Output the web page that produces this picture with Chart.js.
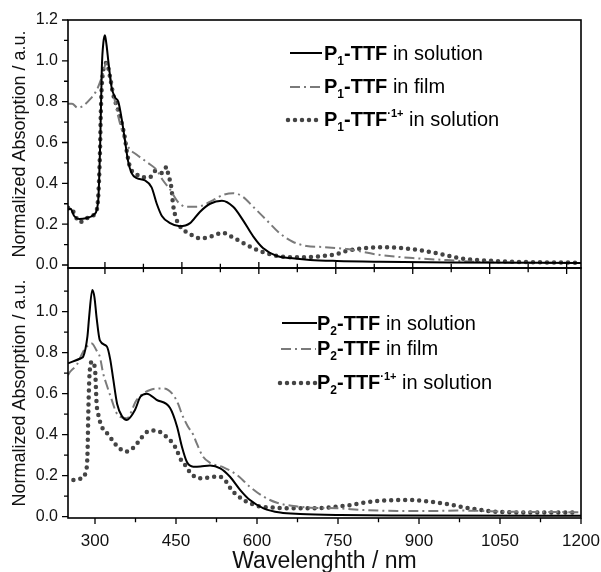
<!DOCTYPE html>
<html>
<head>
<meta charset="utf-8">
<script src="https://cdn.jsdelivr.net/npm/chart.js@4.4.1/dist/chart.umd.min.js"></script>
<style>
  body { margin: 0; background: #fff; }
  #wrap { position: relative; width: 601px; height: 572px; overflow: hidden; }
  #topBox { position: absolute; left: 0; top: 0; width: 601px; height: 276px; }
  #botBox { position: absolute; left: 0; top: 262px; width: 601px; height: 310px; }
</style>
</head>
<body>
<div id="wrap">
  <div id="topBox"><canvas id="topChart"></canvas></div>
  <div id="botBox"><canvas id="botChart"></canvas></div>
</div>
<script>
// ---- data ----
// top panel, P1-TTF
const p1SolNm  = [228, 233, 240, 250, 265, 280, 287, 291, 294, 297, 300, 303, 307, 313, 320, 326, 333, 339, 345, 352, 362, 378, 391, 401, 411, 427, 446, 466, 485, 505, 528, 550, 569, 589, 608, 635, 661, 700, 752, 836, 972, 1228];
const p1SolAbs = [0.27, 0.275, 0.24, 0.225, 0.23, 0.25, 0.32, 0.62, 0.97, 1.09, 1.125, 1.08, 0.99, 0.87, 0.82, 0.80, 0.71, 0.61, 0.51, 0.45, 0.425, 0.415, 0.38, 0.30, 0.24, 0.205, 0.19, 0.205, 0.26, 0.30, 0.315, 0.285, 0.22, 0.14, 0.083, 0.044, 0.034, 0.025, 0.02, 0.016, 0.012, 0.01];

const p1FilmNm  = [228, 236, 247, 274, 284, 294, 303, 310, 323, 333, 345, 362, 384, 401, 413, 427, 442, 459, 479, 511, 530, 550, 569, 589, 615, 641, 666, 693, 725, 752, 772, 836, 900, 967, 1031, 1228];
const p1FilmAbs = [0.79, 0.79, 0.77, 0.82, 0.857, 0.92, 0.99, 0.92, 0.76, 0.66, 0.58, 0.54, 0.50, 0.465, 0.415, 0.37, 0.31, 0.285, 0.285, 0.318, 0.343, 0.352, 0.334, 0.285, 0.22, 0.155, 0.114, 0.093, 0.088, 0.083, 0.078, 0.049, 0.034, 0.024, 0.015, 0.01];

const p1CatNm  = [228, 236, 251, 265, 281, 286.5, 290.4, 292, 295, 303.4, 310, 315.7, 325.5, 332.7, 339, 342.4, 348.8, 358.6, 374, 387.8, 397.6, 410.6, 420.4, 422.9, 430, 432.6, 440, 446.3, 459.3, 475.5, 485, 505, 520, 530, 544, 559, 573, 589, 605.5, 627.5, 661, 693, 725, 752, 772, 803, 842, 881, 920, 953, 992, 1031, 1095, 1226];
const p1CatAbs = [0.28, 0.27, 0.21, 0.23, 0.255, 0.32, 0.56, 0.75, 0.92, 0.99, 0.92, 0.84, 0.76, 0.695, 0.62, 0.56, 0.48, 0.45, 0.43, 0.43, 0.46, 0.45, 0.48, 0.45, 0.37, 0.30, 0.22, 0.19, 0.16, 0.14, 0.13, 0.138, 0.152, 0.158, 0.142, 0.122, 0.103, 0.082, 0.065, 0.049, 0.038, 0.038, 0.044, 0.054, 0.07, 0.082, 0.087, 0.082, 0.07, 0.054, 0.033, 0.024, 0.016, 0.011];

// bottom panel, P2-TTF
const p2SolNm  = [250, 275, 278, 286, 289, 295, 299, 303, 309, 322, 328, 334, 341, 350, 359, 374, 384, 396, 414, 439, 452, 461, 470, 482, 495, 513, 532, 550, 569, 587, 612, 643, 680, 754, 865, 1200];
const p2SolAbs = [0.748, 0.774, 0.78, 0.88, 0.97, 1.106, 1.07, 0.97, 0.86, 0.83, 0.77, 0.667, 0.55, 0.49, 0.472, 0.52, 0.585, 0.6, 0.57, 0.53, 0.439, 0.341, 0.268, 0.244, 0.245, 0.25, 0.236, 0.195, 0.13, 0.081, 0.041, 0.02, 0.013, 0.008, 0.006, 0.005];

const p2FilmNm  = [250, 254, 266, 278, 288, 294, 303, 309, 315, 322, 331, 339, 346, 359, 377, 402, 427, 445, 454, 461, 472, 482, 488, 500, 513, 538, 563, 587, 612, 637, 668, 699, 748, 797, 860, 921, 971, 1075, 1200];
const p2FilmAbs = [0.69, 0.707, 0.74, 0.805, 0.838, 0.845, 0.81, 0.78, 0.70, 0.64, 0.57, 0.51, 0.488, 0.48, 0.569, 0.618, 0.626, 0.594, 0.55, 0.50, 0.44, 0.40, 0.36, 0.293, 0.263, 0.241, 0.203, 0.146, 0.098, 0.068, 0.052, 0.044, 0.041, 0.033, 0.028, 0.028, 0.03, 0.024, 0.022];

const p2CatNm  = [260, 275, 283, 286, 288, 290, 294.5, 300, 303, 306, 312.5, 325, 334, 345, 357.5, 370, 382, 393, 405, 419, 432, 444, 451.5, 457.6, 467, 475, 487, 501, 513, 526, 538, 547, 553, 563, 575, 590.5, 606, 624, 661.5, 698.6, 735.6, 772.7, 797, 828, 859, 890, 921, 952, 983, 1014, 1045, 1106, 1193];
const p2CatAbs = [0.179, 0.187, 0.22, 0.30, 0.55, 0.70, 0.756, 0.72, 0.55, 0.50, 0.439, 0.40, 0.366, 0.334, 0.317, 0.334, 0.371, 0.407, 0.42, 0.415, 0.39, 0.358, 0.325, 0.285, 0.252, 0.22, 0.192, 0.187, 0.192, 0.195, 0.187, 0.155, 0.13, 0.106, 0.081, 0.062, 0.049, 0.046, 0.041, 0.041, 0.046, 0.057, 0.068, 0.078, 0.081, 0.081, 0.073, 0.062, 0.046, 0.033, 0.024, 0.02, 0.02];

// ticks
const xTickLabels  = [300, 450, 600, 750, 900, 1050, 1200];
const xMinorTicks  = [375, 525, 675, 825, 975, 1125];
const yTicksTop    = [0.0, 0.2, 0.4, 0.6, 0.8, 1.0, 1.2];
const yTicksBottom = [0.0, 0.2, 0.4, 0.6, 0.8, 1.0];
const yMinorTicks  = [0.1, 0.3, 0.5, 0.7, 0.9, 1.1];

// legend text
const legendSubTop = '1';
const legendSubBottom = '2';
const legendSup = ['', '', '\u00b71+'];
const legendRest = ['in solution', 'in film', 'in solution'];
const yTitle = 'Normalized Absorption / a.u.';
const xTitle = 'Wavelenghth / nm';

const FONT = "Arial, 'Liberation Sans', Helvetica, sans-serif";

const styles = [
  { borderColor: '#000', borderWidth: 2, borderDash: [] },
  { borderColor: '#7a7a7a', borderWidth: 2, borderDash: [10, 4, 2, 4] },
  { borderColor: '#444', borderWidth: 4.5, borderDash: [0, 7], borderCapStyle: 'round' }
];

function series(nm, abs, st) {
  return Object.assign({
    data: nm.map((v, i) => ({ x: v, y: abs[i] })),
    pointRadius: 0,
    cubicInterpolationMode: 'monotone',
    fill: false
  }, st);
}

// no extra room for labels at the scale ends, the layout is fixed
function noEndPadding(s) {
  s.paddingTop = 0; s.paddingBottom = 0; s.paddingLeft = 0; s.paddingRight = 0;
}

// frame with inward / crossing ticks
const framePlugin = {
  id: 'frame',
  afterDatasetsDraw(chart, args, o) {
    const ctx = chart.ctx, a = chart.chartArea;
    const xs = chart.scales.x, ys = chart.scales.y;
    ctx.save();
    ctx.strokeStyle = '#000';
    ctx.lineWidth = 1.6;
    ctx.strokeRect(a.left, a.top, a.right - a.left, a.bottom - a.top);
    ctx.lineWidth = 1.3;
    ctx.beginPath();
    o.yMajor.forEach(v => {
      const p = ys.getPixelForValue(v);
      ctx.moveTo(a.left - 6, p); ctx.lineTo(a.left, p);
    });
    yMinorTicks.forEach(v => {
      if (v > ys.max) return;
      const p = ys.getPixelForValue(v);
      ctx.moveTo(a.left - 4, p); ctx.lineTo(a.left, p);
    });
    o.xMajor.forEach(v => {
      const p = xs.getPixelForValue(v);
      ctx.moveTo(p, a.bottom - o.up); ctx.lineTo(p, a.bottom + o.down);
    });
    o.xMinor.forEach(v => {
      const p = xs.getPixelForValue(v);
      ctx.moveTo(p, a.bottom - o.up * 0.7); ctx.lineTo(p, a.bottom + o.down * 0.7);
    });
    ctx.stroke();
    ctx.restore();
  }
};

// legend with subscript / superscript
const legendPlugin = {
  id: 'richLegend',
  afterDraw(chart, args, o) {
    const ctx = chart.ctx;
    ctx.save();
    o.rows.forEach((r, i) => {
      const ds = chart.data.datasets[i];
      ctx.strokeStyle = ds.borderColor;
      ctx.lineWidth = ds.borderWidth;
      ctx.setLineDash(ds.borderDash || []);
      ctx.lineCap = ds.borderCapStyle || 'butt';
      ctx.beginPath();
      ctx.moveTo(r.x0, r.ly); ctx.lineTo(r.x1, r.ly);
      ctx.stroke();
      ctx.setLineDash([]);
      ctx.fillStyle = '#000';
      ctx.textBaseline = 'alphabetic';
      let x = o.tx;
      const b = r.base;
      ctx.font = 'bold 20px ' + FONT;
      ctx.fillText('P', x, b); x += ctx.measureText('P').width;
      ctx.font = 'bold 12px ' + FONT;
      ctx.fillText(o.sub, x, b + 5); x += ctx.measureText(o.sub).width;
      ctx.font = 'bold 20px ' + FONT;
      ctx.fillText('-TTF', x, b); x += ctx.measureText('-TTF').width;
      if (legendSup[i]) {
        ctx.font = 'bold 11px ' + FONT;
        ctx.fillText(legendSup[i], x, b - 9); x += ctx.measureText(legendSup[i]).width;
      }
      ctx.font = '20px ' + FONT;
      ctx.fillText(' ' + legendRest[i], x, b);
    });
    ctx.restore();
  }
};

function yAxis(min, max, ticks) {
  return {
    type: 'linear', min: min, max: max,
    afterBuildTicks: s => { s.ticks = ticks.map(v => ({ value: v })); },
    afterFit: s => { s.width = 68; noEndPadding(s); },
    grid: { display: false, drawTicks: false },
    border: { display: false },
    ticks: { padding: 10, color: '#111', font: { family: FONT, size: 16 }, callback: v => Number(v).toFixed(1) },
    title: { display: true, text: yTitle, color: '#111', font: { family: FONT, size: 18 }, padding: { top: 9, bottom: 0 } }
  };
}

Chart.defaults.font.family = FONT;

new Chart(document.getElementById('topChart'), {
  type: 'line',
  data: { datasets: [
    series(p1SolNm, p1SolAbs, styles[0]),
    series(p1FilmNm, p1FilmAbs, styles[1]),
    series(p1CatNm, p1CatAbs, styles[2])
  ] },
  options: {
    responsive: true, maintainAspectRatio: false, animation: false,
    layout: { padding: { top: 20, right: 20, bottom: 8, left: 0 } },
    plugins: {
      legend: { display: false }, tooltip: { enabled: false },
      frame: { yMajor: yTicksTop, xMajor: xTickLabels, xMinor: xMinorTicks, up: 6, down: 6 },
      richLegend: { tx: 324, sub: legendSubTop, rows: [
        { x0: 290, x1: 322, ly: 53, base: 60 },
        { x0: 290, x1: 322, ly: 87, base: 93 },
        { x0: 288, x1: 322, ly: 120, base: 126 }
      ] }
    },
    scales: {
      x: {
        type: 'linear', min: 228, max: 1228,
        grid: { display: false, drawTicks: false }, border: { display: false },
        ticks: { display: false },
        afterFit: s => { s.height = 0; noEndPadding(s); }
      },
      y: yAxis(-0.0147, 1.2, yTicksTop)
    }
  },
  plugins: [framePlugin, legendPlugin]
});

new Chart(document.getElementById('botChart'), {
  type: 'line',
  data: { datasets: [
    series(p2SolNm, p2SolAbs, styles[0]),
    series(p2FilmNm, p2FilmAbs, styles[1]),
    series(p2CatNm, p2CatAbs, styles[2])
  ] },
  options: {
    responsive: true, maintainAspectRatio: false, animation: false,
    layout: { padding: { top: 6, right: 20, bottom: 0, left: 0 } },
    plugins: {
      legend: { display: false }, tooltip: { enabled: false },
      frame: { yMajor: yTicksBottom, xMajor: xTickLabels, xMinor: xMinorTicks, up: 0, down: 6 },
      richLegend: { tx: 317, sub: legendSubBottom, rows: [
        { x0: 282, x1: 317, ly: 61, base: 68 },
        { x0: 281, x1: 316, ly: 87, base: 93 },
        { x0: 280, x1: 316, ly: 121, base: 127 }
      ] }
    },
    scales: {
      x: {
        type: 'linear', min: 250, max: 1200,
        afterBuildTicks: s => { s.ticks = xTickLabels.map(v => ({ value: v })); },
        afterFit: s => { s.height = 54; noEndPadding(s); },
        grid: { display: false, drawTicks: false }, border: { display: false },
        ticks: { padding: 13, color: '#111', maxRotation: 0, font: { family: FONT, size: 17 }, callback: v => String(v) },
        title: { display: true, text: xTitle, color: '#111', font: { family: FONT, size: 23 }, padding: { top: 0, bottom: -3 } }
      },
      y: yAxis(-0.0063, 1.213, yTicksBottom)
    }
  },
  plugins: [framePlugin, legendPlugin]
});
</script>
</body>
</html>
